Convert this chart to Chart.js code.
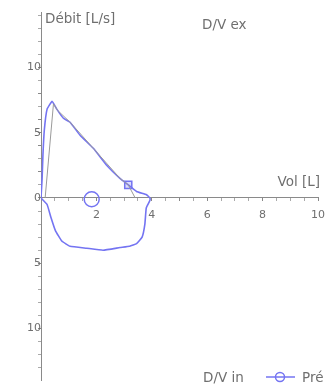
<!DOCTYPE html>
<html>
<head>
<meta charset="utf-8">
<script src="https://cdn.jsdelivr.net/npm/chart.js@4/dist/chart.umd.min.js"></script>
<style>
  html, body { margin: 0; padding: 0; background: #fff; }
  #wrap { width: 330px; height: 389px; }
</style>
</head>
<body>
<div id="wrap"><canvas id="dvChart"></canvas></div>
<script>
// ================= DONNÉES =================
// boucle débit/volume "Pré" (expiration puis inspiration)
const volEx   = [0, 0.04, 0.07, 0.12, 0.22, 0.4, 0.57, 0.81, 1.05, 1.41, 1.89, 2.37, 2.85, 3.15, 3.45, 3.81, 3.93];
const debitEx = [0, 1.5, 3.3, 5.2, 6.8, 7.4, 6.8, 6.1, 5.8, 4.8, 3.8, 2.5, 1.5, 1.0, 0.5, 0.25, 0];
const volIn   = [3.93, 3.8, 3.75, 3.65, 3.45, 3.2, 2.85, 2.24, 1.65, 1.05, 0.75, 0.52, 0.36, 0.22, 0];
const debitIn = [-0.2, -0.76, -2.0, -3.0, -3.5, -3.7, -3.8, -4.0, -3.85, -3.7, -3.3, -2.5, -1.5, -0.5, 0];

// courbe grise (expiration)
const volGris   = [0.15, 0.45, 0.6, 1.05, 1.89, 2.85, 3.15, 3.4];
const debitGris = [0, 7.2, 6.7, 5.8, 3.8, 1.5, 1.0, 0];

// repères
const repereCarre = { vol: 3.15, debit: 1.0 };
const repereRond  = { vol: 1.83, debit: -0.1 };

const xTicks = [2, 4, 6, 8, 10];
const yTicks = [-10, -5, 0, 5, 10];

const serieNom = "Pré";
const titreY = "Débit [L/s]";
const titreX = "Vol [L]";
const texteEx = "D/V ex";
const texteIn = "D/V in";

const bleu = "#7474f2";
const gris = "#9a9a9a";
const texte = "#6f6f6f";

// ================= POINTS =================
const pointsPre = volEx.map((v, i) => ({ x: v, y: debitEx[i] }))
  .concat(volIn.map((v, i) => ({ x: v, y: debitIn[i] })));
const pointsGris = volGris.map((v, i) => ({ x: v, y: debitGris[i] }));

// ================= TEXTES + LÉGENDE =================
const textesPlugin = {
  id: "textes",
  afterDraw(chart) {
    const { ctx, scales: { x, y } } = chart;
    const x0 = x.getPixelForValue(0);
    ctx.save();
    ctx.fillStyle = texte;
    ctx.font = "13.5px 'DejaVu Sans'";
    ctx.textBaseline = "middle";
    ctx.textAlign = "left";
    ctx.fillText(titreY, x0 + 4, 19);
    ctx.fillText(texteEx, 202, 25);
    ctx.textAlign = "right";
    ctx.fillText(titreX, x.getPixelForValue(10) + 2, y.getPixelForValue(0) - 15);
    ctx.textAlign = "left";
    ctx.fillText(texteIn, 203, 378);

    // légende
    ctx.strokeStyle = bleu;
    ctx.lineWidth = 1.5;
    ctx.beginPath();
    ctx.moveTo(266, 377);
    ctx.lineTo(295, 377);
    ctx.stroke();
    ctx.beginPath();
    ctx.arc(280, 377, 4.5, 0, Math.PI * 2);
    ctx.stroke();
    ctx.fillText(serieNom, 302, 378);
    ctx.restore();
  }
};

// ================= GRAPHIQUE =================
const tickCouleur = (c) => {
  const v = c.tick ? c.tick.value : 0;
  return (xTicks.includes(v) || yTicks.includes(v)) ? "#888" : "#aaa";
};
const sansMarge = (s) => {
  s.paddingLeft = 0; s.paddingRight = 0; s.paddingTop = 0; s.paddingBottom = 0;
};

new Chart(document.getElementById("dvChart"), {
  type: "scatter",
  data: {
    datasets: [
      {
        data: pointsGris,
        showLine: true,
        borderColor: gris,
        borderWidth: 1,
        pointRadius: 0
      },
      {
        label: serieNom,
        data: pointsPre,
        showLine: true,
        borderColor: bleu,
        borderWidth: 1.6,
        pointRadius: 0,
        tension: 0.1
      },
      {
        data: [{ x: repereCarre.vol, y: repereCarre.debit }],
        pointStyle: "rect",
        pointRadius: 5,
        borderColor: bleu,
        borderWidth: 1.5,
        backgroundColor: "rgba(116,116,242,0.25)"
      },
      {
        data: [{ x: repereRond.vol, y: repereRond.debit }],
        pointStyle: "circle",
        pointRadius: 7.5,
        borderColor: bleu,
        borderWidth: 1.5,
        backgroundColor: "rgba(0,0,0,0)"
      }
    ]
  },
  options: {
    responsive: true,
    maintainAspectRatio: false,
    animation: false,
    layout: { padding: { left: 41, right: 12, top: 12, bottom: 0 } },
    plugins: { legend: { display: false }, tooltip: { enabled: false } },
    scales: {
      x: {
        type: "linear",
        position: { y: 0 },
        min: 0,
        max: 10,
        afterFit: sansMarge,
        border: { color: "#8a8a8a" },
        grid: { drawOnChartArea: false, tickLength: 3, tickColor: tickCouleur },
        ticks: {
          stepSize: 0.5,
          autoSkip: false,
          includeBounds: false,
          maxRotation: 0,
          padding: 8,
          color: texte,
          font: { family: "DejaVu Sans", size: 11 },
          callback: (v) => xTicks.includes(v) ? String(v) : ""
        }
      },
      y: {
        type: "linear",
        position: { x: 0 },
        min: -13.94,
        max: 14.24,
        afterFit: sansMarge,
        border: { color: "#8a8a8a" },
        grid: { drawOnChartArea: false, tickLength: 3, tickColor: tickCouleur },
        ticks: {
          stepSize: 1,
          autoSkip: false,
          includeBounds: false,
          padding: 3,
          color: texte,
          font: { family: "DejaVu Sans", size: 11 },
          callback: (v) => yTicks.includes(v) ? String(Math.abs(v)) : ""
        }
      }
    }
  },
  plugins: [textesPlugin]
});
</script>
</body>
</html>
